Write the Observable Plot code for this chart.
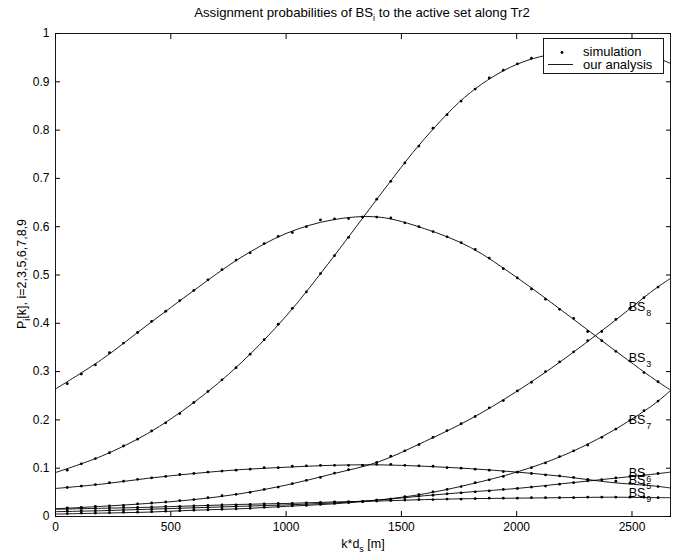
<!DOCTYPE html>
<html>
<head>
<meta charset="utf-8">
<script src="https://cdn.jsdelivr.net/npm/d3@7"></script>
<script src="https://cdn.jsdelivr.net/npm/@observablehq/plot@0.6"></script>
<style>
html, body { margin: 0; padding: 0; background: #fff; }
#chart { width: 679px; height: 559px; }
</style>
</head>
<body>
<div id="chart"></div>
<script>
const FONT = "'Liberation Sans', Arial, Helvetica, sans-serif";

// ---- axes ----
const xMax = 2667;
const xTicks = [0, 500, 1000, 1500, 2000, 2500];
const yTicks = [0, 0.1, 0.2, 0.3, 0.4, 0.5, 0.6, 0.7, 0.8, 0.9, 1];

// ---- simulation sample positions (k*d_s, m) ----
const simX = d3.range(43).map(k => 51 + 61 * k);

// ---- simulation values (dots) ----
const simBS2 = [0.096,0.109,0.120,0.132,0.146,0.160,0.177,0.194,0.213,0.236,0.259,0.283,0.308,0.336,0.366,0.398,0.431,0.465,0.503,0.540,0.578,0.620,0.657,0.694,0.732,0.767,0.804,0.832,0.860,0.885,0.908,0.924,0.937,0.949,0.957,0.961,0.964,0.966,0.966,0.964,0.960,0.955,0.948];
const simBS3 = [0.275,0.295,0.314,0.339,0.359,0.381,0.404,0.425,0.447,0.468,0.490,0.511,0.531,0.546,0.565,0.580,0.588,0.600,0.614,0.616,0.617,0.620,0.620,0.618,0.608,0.600,0.590,0.579,0.567,0.553,0.535,0.513,0.494,0.471,0.450,0.429,0.410,0.383,0.364,0.342,0.322,0.298,0.279];
const simBS8 = [0.018,0.019,0.021,0.022,0.023,0.026,0.028,0.030,0.033,0.035,0.039,0.043,0.046,0.050,0.056,0.061,0.068,0.075,0.081,0.090,0.097,0.106,0.112,0.125,0.136,0.149,0.164,0.178,0.192,0.207,0.225,0.240,0.260,0.278,0.300,0.320,0.341,0.364,0.383,0.408,0.431,0.453,0.475];
const simBS5 = [0.060,0.063,0.066,0.070,0.073,0.077,0.080,0.083,0.087,0.089,0.092,0.094,0.096,0.098,0.101,0.101,0.104,0.105,0.106,0.106,0.106,0.106,0.108,0.108,0.106,0.105,0.104,0.101,0.100,0.098,0.096,0.093,0.092,0.089,0.086,0.084,0.081,0.077,0.076,0.073,0.069,0.066,0.062];
const simBS7 = [0.006,0.007,0.007,0.008,0.009,0.009,0.010,0.011,0.012,0.013,0.014,0.015,0.016,0.017,0.019,0.020,0.022,0.023,0.025,0.027,0.029,0.031,0.034,0.036,0.041,0.045,0.051,0.056,0.062,0.070,0.076,0.083,0.092,0.101,0.111,0.124,0.136,0.148,0.164,0.181,0.199,0.219,0.239];
const simBS6 = [0.011,0.012,0.012,0.013,0.014,0.015,0.015,0.016,0.017,0.018,0.019,0.020,0.021,0.022,0.023,0.024,0.025,0.026,0.027,0.029,0.030,0.031,0.034,0.036,0.039,0.042,0.044,0.047,0.049,0.051,0.053,0.056,0.058,0.061,0.063,0.067,0.070,0.074,0.076,0.080,0.083,0.086,0.089];
const simBS9 = [0.016,0.017,0.017,0.018,0.019,0.019,0.020,0.021,0.021,0.022,0.023,0.024,0.024,0.025,0.026,0.027,0.027,0.028,0.029,0.030,0.030,0.031,0.032,0.033,0.034,0.035,0.035,0.036,0.036,0.037,0.038,0.038,0.038,0.039,0.039,0.039,0.039,0.040,0.040,0.040,0.040,0.040,0.039];

// ---- analysis (smooth curves), read at these positions ----
const anaX = [0, 200, 400, 600, 800, 1000, 1200, 1400, 1600, 1800, 2000, 2200, 2400, 2600, 2667];
const anaBS2 = [0.091,0.125,0.172,0.236,0.316,0.415,0.534,0.661,0.782,0.878,0.936,0.961,0.965,0.950,0.938];
const anaBS3 = [0.264,0.325,0.397,0.468,0.535,0.586,0.614,0.620,0.596,0.557,0.495,0.425,0.353,0.283,0.262];
const anaBS8 = [0.016,0.021,0.027,0.035,0.047,0.065,0.088,0.113,0.155,0.202,0.259,0.324,0.396,0.471,0.493];
const anaBS5 = [0.058,0.067,0.079,0.089,0.097,0.102,0.106,0.107,0.104,0.099,0.092,0.083,0.071,0.063,0.059];
const anaBS7 = [0.005,0.007,0.009,0.013,0.016,0.021,0.026,0.034,0.047,0.067,0.092,0.126,0.173,0.234,0.261];
const anaBS6 = [0.010,0.012,0.015,0.018,0.021,0.024,0.028,0.034,0.043,0.051,0.058,0.068,0.078,0.088,0.092];
const anaBS9 = [0.015,0.017,0.019,0.022,0.025,0.027,0.030,0.032,0.035,0.037,0.038,0.039,0.040,0.039,0.039];

const seriesNames = ["BS2", "BS3", "BS8", "BS5", "BS7", "BS6", "BS9"];
const simSeries = [simBS2, simBS3, simBS8, simBS5, simBS7, simBS6, simBS9];
const anaSeries = [anaBS2, anaBS3, anaBS8, anaBS5, anaBS7, anaBS6, anaBS9];

// ---- curve labels ----
const labelSubs = ["8", "3", "7", "6", "5", "9"];
const labelX = [2486, 2486, 2486, 2486, 2486, 2486];
const labelY = [0.433, 0.328, 0.200, 0.090, 0.076, 0.048];

// ---- build tables ----
const dots = seriesNames.flatMap((s, j) => simSeries[j].map((v, i) => ({s, x: simX[i], y: v})));
const lines = seriesNames.flatMap((s, j) => anaSeries[j].map((v, i) => ({s, x: anaX[i], y: v})));
const labels = labelSubs.map((sub, i) => ({sub, x: labelX[i], y: labelY[i]}));

const plot = Plot.plot({
  width: 679,
  height: 559,
  marginLeft: 55,
  marginRight: 9,
  marginTop: 33,
  marginBottom: 43,
  style: {fontFamily: FONT, fontSize: "12px", background: "white", color: "black", overflow: "visible"},
  x: {domain: [0, xMax]},
  y: {domain: [0, 1]},
  marks: [
    Plot.axisX({ticks: xTicks, anchor: "bottom", tickSize: -5, tickPadding: 11, label: null, tickFormat: d => String(d)}),
    Plot.axisX({ticks: xTicks, anchor: "top", tickSize: -5, label: null, tickFormat: () => ""}),
    Plot.axisY({ticks: yTicks, anchor: "left", tickSize: -5, tickPadding: 11, label: null, tickFormat: d => String(d)}),
    Plot.axisY({ticks: yTicks, anchor: "right", tickSize: -5, label: null, tickFormat: () => ""}),
    Plot.line(lines, {x: "x", y: "y", z: "s", curve: "catmull-rom", stroke: "black", strokeWidth: 0.9}),
    Plot.dot(dots, {x: "x", y: "y", r: 1.4, fill: "black", stroke: null}),
    Plot.text(labels, {x: "x", y: "y", text: () => "BS", textAnchor: "start", fontSize: 12.5, fill: "black"}),
    Plot.text(labels, {x: "x", y: "y", text: "sub", textAnchor: "start", fontSize: 9, dx: 17.5, dy: 6, fill: "black"}),
    Plot.frame({stroke: "black", strokeWidth: 0.9})
  ]
});

document.getElementById("chart").appendChild(plot);

const svg = d3.select(plot);

// Title
const title = svg.append("text")
  .attr("x", 362).attr("y", 17)
  .attr("text-anchor", "middle")
  .attr("font-family", FONT).attr("font-size", 13.2).attr("fill", "black");
title.append("tspan").text("Assignment probabilities of BS");
title.append("tspan").attr("font-size", 9).attr("dy", 4).text("i");
title.append("tspan").attr("dy", -4).text(" to the active set along Tr2");

// X label
const xl = svg.append("text")
  .attr("x", 363).attr("y", 548)
  .attr("text-anchor", "middle")
  .attr("font-family", FONT).attr("font-size", 12.5).attr("fill", "black");
xl.append("tspan").text("k*d");
xl.append("tspan").attr("font-size", 9).attr("dy", 4).text("s");
xl.append("tspan").attr("dy", -4).text(" [m]");

// Y label
const yl = svg.append("text")
  .attr("transform", "translate(26,274) rotate(-90)")
  .attr("text-anchor", "middle")
  .attr("font-family", FONT).attr("font-size", 12.5).attr("fill", "black");
yl.append("tspan").text("P");
yl.append("tspan").attr("font-size", 9).attr("dy", 4).text("i");
yl.append("tspan").attr("dy", -4).text("[k], i=2,3,5,6,7,8,9");

// Legend
const lg = svg.append("g").attr("font-family", FONT).attr("font-size", 13).attr("fill", "black");
lg.append("rect").attr("x", 543.5).attr("y", 38.5).attr("width", 120).attr("height", 35)
  .attr("fill", "white").attr("stroke", "black").attr("stroke-width", 0.9);
lg.append("circle").attr("cx", 562).attr("cy", 52.5).attr("r", 1.4).attr("fill", "black");
lg.append("text").attr("x", 583).attr("y", 56).attr("text-anchor", "start").text("simulation");
lg.append("line").attr("x1", 548).attr("x2", 573).attr("y1", 64.5).attr("y2", 64.5)
  .attr("stroke", "black").attr("stroke-width", 0.9);
lg.append("text").attr("x", 583).attr("y", 69).attr("text-anchor", "start").text("our analysis");
</script>
</body>
</html>
